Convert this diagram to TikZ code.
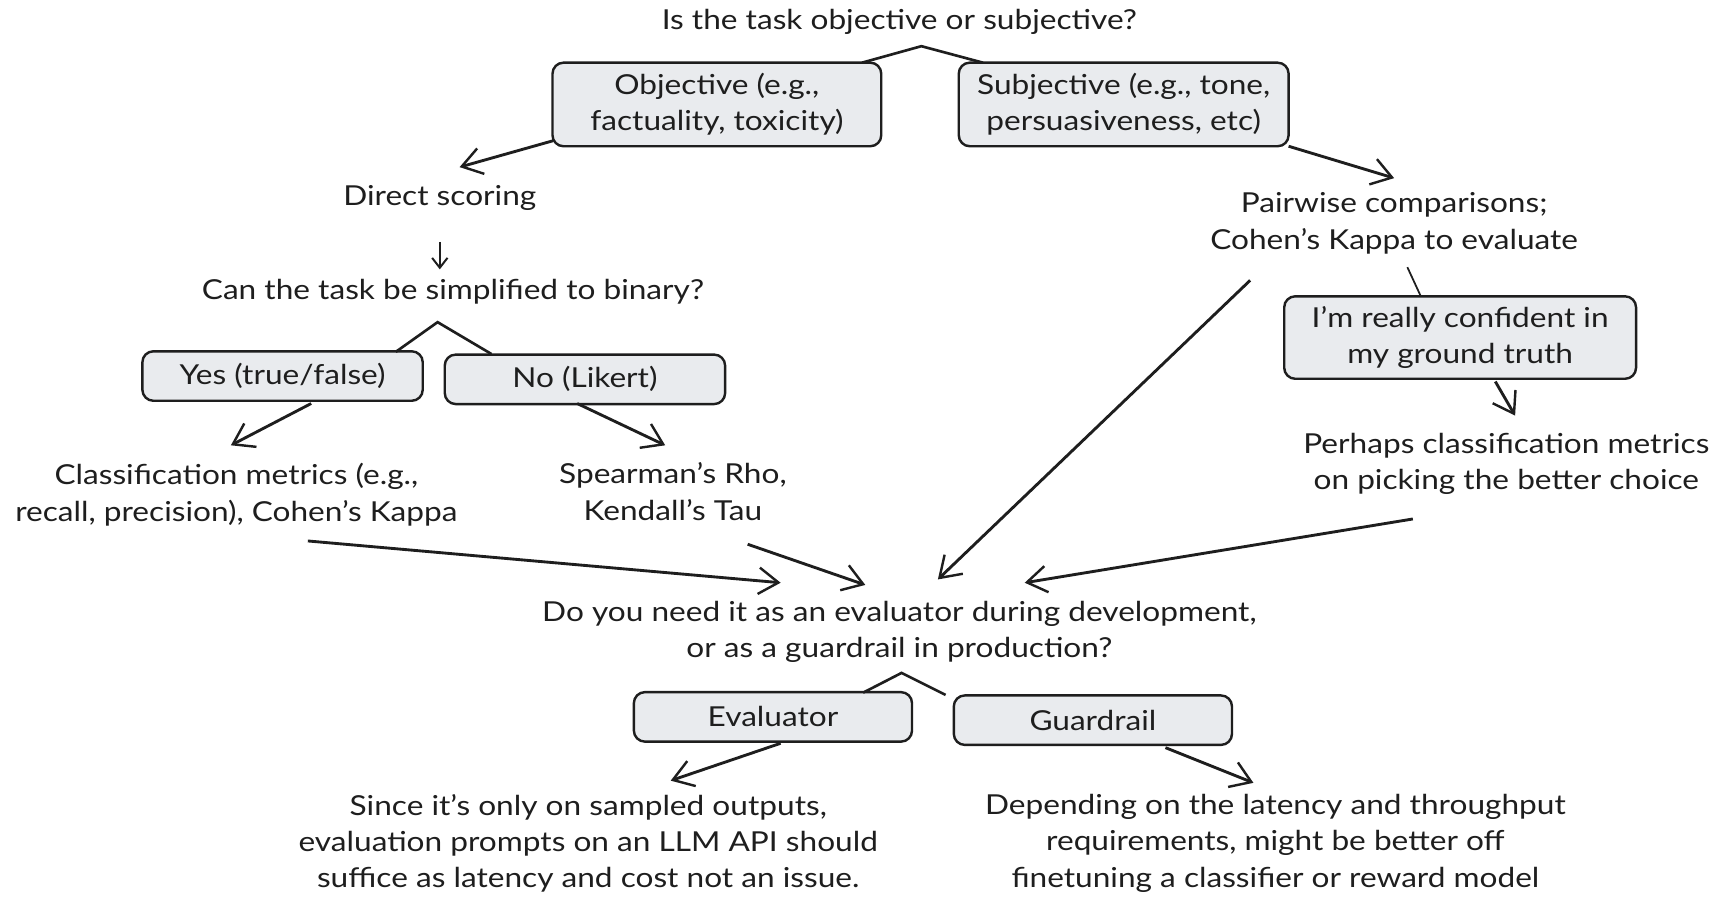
\documentclass[tikz,border=0pt]{standalone}
\usepackage{fontspec}
\setmainfont[FakeStretch=1.15]{Lato}
\usetikzlibrary{arrows.meta,calc}
\definecolor{boxgray}{HTML}{E9EBEE}
\definecolor{ink}{HTML}{1E1E1E}
\begin{document}
\begin{tikzpicture}[x=1pt,y=-1pt,
  lbl/.style={align=center,font=\fontsize{25}{33}\selectfont,inner sep=0pt,text=ink},
  choice/.style={lbl,draw=ink,line width=2.2pt,rounded corners=10pt,fill=boxgray},
  arr/.style={-{Straight Barb[length=18pt,width=24pt,line width=2.2pt]},line width=2.6pt,ink},
  smallarr/.style={-{Straight Barb[length=9pt,width=14pt,line width=1.8pt]},line width=2pt,ink},
  ln/.style={line width=2.4pt,ink}]
\useasboundingbox[fill=white] (0,0) rectangle (1568,817);

\node[lbl] (q1) at (818,20) {Is the task objective or subjective?};
\node[choice,minimum width=299pt,minimum height=76pt] (obj) at (652,95) {Objective (e.g.,\\factuality, toxicity)};
\node[choice,minimum width=300pt,minimum height=76pt] (subj) at (1022,95) {Subjective (e.g., tone,\\persuasiveness, etc)};
\node[lbl] (direct) at (400,180) {Direct scoring};
\node[lbl] (q2) at (412,265) {Can the task be simplified to binary?};
\node[choice,minimum width=255pt,minimum height=45pt] (yes) at (257,342) {Yes (true/false)};
\node[choice,minimum width=255pt,minimum height=45pt] (no) at (532,345) {No (Likert)};
\node[lbl] (cls) at (215,450) {Classification metrics (e.g.,\\recall, precision), Cohen's Kappa};
\node[lbl] (spear) at (612,447) {Spearman's Rho,\\Kendall's Tau};
\node[lbl] (pair) at (1268,203) {Pairwise comparisons;\\Cohen's Kappa to evaluate};
\node[choice,minimum width=320pt,minimum height=75pt] (conf) at (1328,307) {I'm really confident in\\my ground truth};
\node[lbl] (perh) at (1370,422) {Perhaps classification metrics\\on picking the better choice};
\node[lbl] (q3) at (818,575) {Do you need it as an evaluator during development,\\or as a guardrail in production?};
\node[choice,minimum width=253pt,minimum height=45pt] (eval) at (703,652) {Evaluator};
\node[choice,minimum width=253pt,minimum height=45pt] (guard) at (994,655) {Guardrail};
\node[lbl] (since) at (535,767) {Since it's only on sampled outputs,\\evaluation prompts on an LLM API should\\suffice as latency and cost not an issue.};
\node[lbl] (dep) at (1160,767) {Depending on the latency and throughput\\requirements, might be better off\\finetuning a classifier or reward model};

% forks
\draw[ln] ($(obj.center)+(132,-38)$) -- ($(q1.center)+(20,22)$) -- ($(subj.center)+(-128,-38)$);
\draw[ln] ($(yes.center)+(103,-22)$) -- ($(q2.center)+(-14,28)$) -- ($(no.center)+(-85,-23)$);
\draw[ln] ($(eval.center)+(82,-22)$) -- ($(q3.center)+(2,37)$) -- ($(guard.center)+(-134,-23)$);
\draw[ln,line width=1.6pt] ($(pair.center)+(12,40)$) -- ($(conf.center)+(-36,-38)$);

% arrows
\draw[arr] ($(obj.center)+(-149,33)$) -- ($(direct.center)+(18,-28)$);
\draw[smallarr] ($(direct.center)+(0,40)$) -- ($(q2.center)+(-12,-20)$);
\draw[arr] ($(yes.center)+(26,25)$) -- ($(cls.center)+(-5,-45)$);
\draw[arr] ($(no.center)+(-7,22)$) -- ($(spear.center)+(-7,-42)$);
\draw[arr] ($(subj.center)+(150,38)$) -- ($(pair.center)+(0,-41)$);
\draw[arr] ($(conf.center)+(32,40)$) -- ($(perh.center)+(8,-44)$);
\draw[arr] ($(cls.center)+(65,42)$) -- ($(q3.center)+(-108,-45)$);
\draw[arr] ($(spear.center)+(68,48)$) -- ($(q3.center)+(-31,-43)$);
\draw[arr] ($(pair.center)+(-131,52)$) -- ($(q3.center)+(35,-48)$);
\draw[arr] ($(perh.center)+(-85,50)$) -- ($(q3.center)+(114,-45)$);
\draw[arr] ($(eval.center)+(7,24)$) -- ($(since.center)+(75,-57)$);
\draw[arr] ($(guard.center)+(66,25)$) -- ($(dep.center)+(-20,-55)$);
\end{tikzpicture}
\end{document}
